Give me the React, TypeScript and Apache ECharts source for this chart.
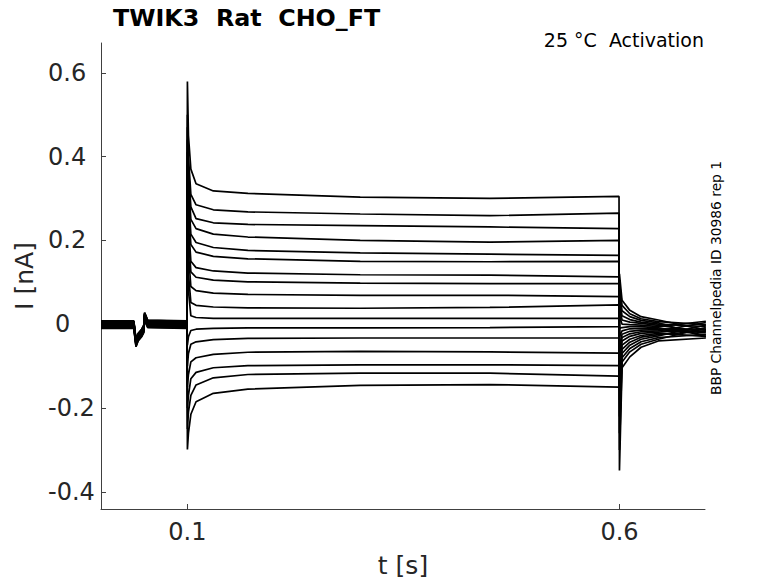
import React, { useEffect, useRef } from "react";
import * as echarts from "echarts";

// ---- data ----
const xTicks = [0.1, 0.6];
const yTicks = [-0.4, -0.2, 0, 0.2, 0.4, 0.6];

// shared pre-pulse baseline (t in s, I in nA)
const baseT = [0, 0.038, 0.0405, 0.043, 0.047, 0.0495, 0.0505, 0.054, 0.0995];
const baseI = [0, 0, -0.044, -0.03, -0.02, -0.01, 0.02, 0.002, 0];

// per-trace holding offsets (spread of the baseline band)
const holdOffset = [0.003, -0.005, 0.007, -0.009, 0.002, -0.003, 0.008, -0.002, 0.005, -0.007, 0.0, 0.004, -0.01, 0.003, -0.004, 0.006, -0.001];

// values during the pulse (17 sweeps, top to bottom)
const peakOn = [0.579, 0.5, 0.47, 0.44, 0.41, 0.38, 0.35, 0.32, 0.28, 0.24, 0.2, -0.05, -0.1, -0.15, -0.2, -0.25, -0.299];
const at0101 = [0.45, 0.4, 0.37, 0.34, 0.31, 0.28, 0.24, 0.21, 0.17, 0.12, 0.08, -0.03, -0.07, -0.12, -0.17, -0.21, -0.26];
const at0104 = [0.37, 0.31, 0.28, 0.25, 0.215, 0.19, 0.15, 0.125, 0.09, 0.052, 0.02, -0.015, -0.048, -0.09, -0.13, -0.17, -0.215];
const at011 = [0.335, 0.285, 0.252, 0.228, 0.195, 0.172, 0.135, 0.112, 0.08, 0.045, 0.016, -0.012, -0.042, -0.08, -0.115, -0.145, -0.185];
const at013 = [0.318, 0.273, 0.242, 0.215, 0.183, 0.162, 0.127, 0.105, 0.074, 0.041, 0.014, -0.01, -0.037, -0.072, -0.104, -0.128, -0.165];
const at017 = [0.312, 0.268, 0.238, 0.208, 0.176, 0.156, 0.122, 0.101, 0.071, 0.039, 0.014, -0.009, -0.034, -0.067, -0.099, -0.12, -0.155];
const at030 = [0.303, 0.263, 0.235, 0.2, 0.17, 0.15, 0.118, 0.098, 0.069, 0.038, 0.014, -0.009, -0.033, -0.065, -0.097, -0.117, -0.146];
const at045 = [0.3, 0.259, 0.232, 0.196, 0.167, 0.149, 0.117, 0.097, 0.069, 0.04, 0.014, -0.008, -0.033, -0.066, -0.097, -0.117, -0.144];
const at060 = [0.305, 0.265, 0.228, 0.2, 0.164, 0.15, 0.113, 0.097, 0.066, 0.046, 0.014, -0.006, -0.033, -0.069, -0.099, -0.124, -0.15];

// values after the pulse
const peakOff = [-0.349, -0.3, -0.26, -0.22, -0.18, -0.15, -0.12, -0.09, -0.06, -0.03, -0.01, 0.02, 0.04, 0.06, 0.08, 0.1, 0.12];
const at0603 = [-0.104, -0.09, -0.08, -0.07, -0.06, -0.05, -0.04, -0.032, -0.024, -0.016, -0.008, 0.0, 0.01, 0.02, 0.032, 0.045, 0.057];
const at0612 = [-0.078, -0.066, -0.058, -0.05, -0.043, -0.036, -0.029, -0.023, -0.017, -0.011, -0.006, -0.001, 0.005, 0.011, 0.018, 0.025, 0.033];
const at0625 = [-0.055, -0.048, -0.042, -0.036, -0.031, -0.027, -0.022, -0.018, -0.014, -0.01, -0.006, -0.002, 0.002, 0.005, 0.009, 0.013, 0.018];
const at0645 = [-0.04, -0.036, -0.032, -0.028, -0.025, -0.022, -0.019, -0.016, -0.013, -0.011, -0.009, -0.006, -0.003, 0.0, 0.003, 0.006, 0.01];
const at070 = [-0.033, -0.008, -0.024, -0.002, -0.016, -0.029, -0.011, 0.004, -0.02, -0.013, -0.026, 0.007, -0.018, -0.006, -0.03, -0.001, -0.014];

const pulseT = [0.1, 0.1012, 0.104, 0.11, 0.13, 0.17, 0.3, 0.45, 0.5995];
const pulseV = [peakOn, at0101, at0104, at011, at013, at017, at030, at045, at060];
const tailT = [0.6, 0.603, 0.612, 0.625, 0.645, 0.7];
const tailV = [peakOff, at0603, at0612, at0625, at0645, at070];

function buildTrace(i: number): [number, number][] {
  const pts: [number, number][] = [];
  baseT.forEach((t, k) => pts.push([t, baseI[k] + holdOffset[i]]));
  pulseT.forEach((t, k) => pts.push([t, pulseV[k][i]]));
  tailT.forEach((t, k) => pts.push([t, tailV[k][i]]));
  return pts;
}

const FONT = "DejaVu Sans";
const TXT = "#262626";
const AX = "#404040";

export default function App() {
  const ref = useRef<HTMLDivElement>(null);
  useEffect(() => {
    if (!ref.current) return;
    const chart = echarts.init(ref.current, undefined, { renderer: "svg" });
    const series = peakOn.map((_, i) => ({
      type: "line" as const,
      name: "sweep " + (i + 1),
      data: buildTrace(i),
      showSymbol: false,
      symbol: "none",
      lineStyle: { color: "#000", width: 1.7 },
      emphasis: { disabled: true },
    }));
    chart.setOption({
      animation: false,
      backgroundColor: "#fff",
      grid: { left: 101, width: 604, top: 43, height: 469, containLabel: false },
      xAxis: {
        type: "value",
        min: 0,
        max: 0.699,
        name: "t [s]",
        nameLocation: "middle",
        nameGap: 44,
        nameTextStyle: { fontFamily: FONT, fontSize: 25, color: TXT },
        axisLine: { show: true, onZero: false, lineStyle: { color: AX, width: 1 } },
        axisTick: { show: true, inside: true, length: 5, customValues: xTicks, lineStyle: { color: AX } },
        axisLabel: {
          customValues: xTicks,
          fontFamily: FONT,
          fontSize: 24,
          color: TXT,
          margin: 11,
          formatter: (v: number) => String(v),
        },
        splitLine: { show: false },
      },
      yAxis: {
        type: "value",
        min: -0.441,
        max: 0.671,
        name: "I [nA]",
        nameLocation: "middle",
        nameRotate: 90,
        nameGap: 64,
        nameTextStyle: { fontFamily: FONT, fontSize: 25, color: TXT },
        axisLine: { show: true, onZero: false, lineStyle: { color: AX, width: 1 } },
        axisTick: { show: true, inside: true, length: 5, customValues: yTicks, lineStyle: { color: AX } },
        axisLabel: {
          customValues: yTicks,
          fontFamily: FONT,
          fontSize: 24,
          color: TXT,
          align: "left",
          margin: 53,
          formatter: (v: number) => (Math.abs(v) < 1e-9 ? "{z|0}" : v.toFixed(1)),
          rich: { z: { fontFamily: FONT, fontSize: 24, color: TXT, padding: [0, 0, 0, 7] } },
        },
        splitLine: { show: false },
      },
      graphic: [
        {
          type: "text",
          left: 113,
          top: 6,
          style: { text: "TWIK3  Rat  CHO_FT", fontFamily: FONT, fontWeight: "bold", fontSize: 23.8, fill: "#000" },
        },
        {
          type: "text",
          right: 74,
          top: 30,
          style: { text: "25 °C  Activation", fontFamily: FONT, fontSize: 19, fill: "#000" },
        },
        {
          type: "text",
          x: 716,
          y: 278,
          rotation: Math.PI / 2,
          style: {
            text: "BBP Channelpedia ID 30986 rep 1",
            fontFamily: FONT,
            fontSize: 13.8,
            fill: "#000",
            align: "center",
            verticalAlign: "middle",
          },
        },
      ],
      series,
    });
    return () => chart.dispose();
  }, []);
  return <div ref={ref} style={{ width: 778, height: 583, position: "absolute", left: 0, top: 0 }} />;
}
